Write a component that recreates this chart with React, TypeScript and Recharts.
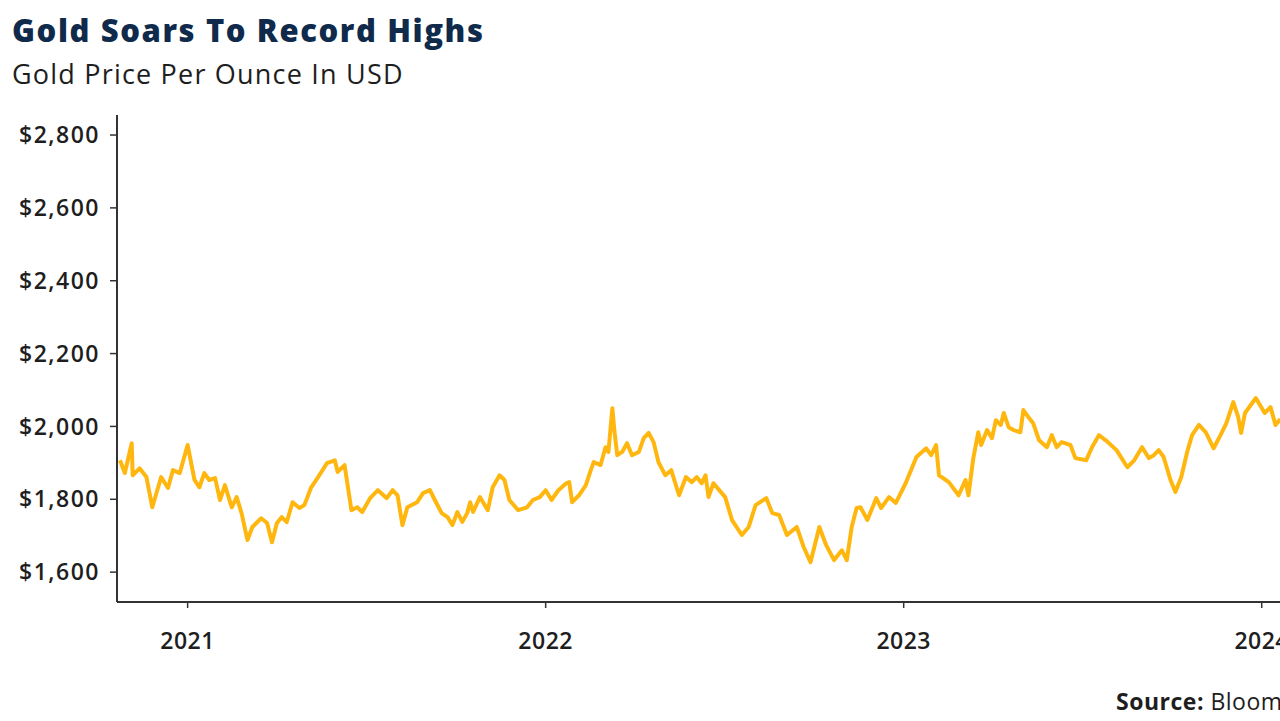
import React from "react";
import { LineChart, Line, XAxis, YAxis } from "recharts";

const dates: string[] = [
  "2020-10-24","2020-10-29","2020-11-05","2020-11-06","2020-11-13","2020-11-20","2020-11-26","2020-12-05","2020-12-12","2020-12-17","2020-12-24",
  "2021-01-01","2021-01-08","2021-01-13","2021-01-18","2021-01-23","2021-01-29","2021-02-03","2021-02-08","2021-02-15","2021-02-20","2021-02-25",
  "2021-03-03","2021-03-08","2021-03-17","2021-03-23","2021-03-28","2021-04-02","2021-04-07","2021-04-12","2021-04-18","2021-04-25","2021-04-30",
  "2021-05-07","2021-05-14","2021-05-23","2021-05-31","2021-06-03","2021-06-10","2021-06-17","2021-06-23","2021-06-28","2021-07-06","2021-07-14",
  "2021-07-23","2021-07-29","2021-08-03","2021-08-08","2021-08-13","2021-08-23","2021-08-29","2021-09-05","2021-09-10","2021-09-17","2021-09-23",
  "2021-09-28","2021-10-03","2021-10-08","2021-10-13","2021-10-16","2021-10-19","2021-10-26","2021-11-03","2021-11-08","2021-11-15","2021-11-20",
  "2021-11-25","2021-12-04","2021-12-13","2021-12-19","2021-12-26",
  "2022-01-01","2022-01-07","2022-01-14","2022-01-22","2022-01-25","2022-01-28","2022-02-04","2022-02-11","2022-02-16","2022-02-19","2022-02-26",
  "2022-03-03","2022-03-06","2022-03-10","2022-03-12","2022-03-15","2022-03-20","2022-03-25","2022-03-30","2022-04-06","2022-04-11","2022-04-16",
  "2022-04-21","2022-04-26","2022-05-03","2022-05-09","2022-05-17","2022-05-24","2022-05-30","2022-06-04","2022-06-09","2022-06-13","2022-06-16",
  "2022-06-21","2022-07-03","2022-07-10","2022-07-20","2022-07-27","2022-08-03","2022-08-14","2022-08-20","2022-08-27","2022-09-04","2022-09-14",
  "2022-09-21","2022-09-28","2022-10-07","2022-10-14","2022-10-22","2022-10-30","2022-11-04","2022-11-09","2022-11-14","2022-11-18","2022-11-25",
  "2022-12-04","2022-12-09","2022-12-17","2022-12-24",
  "2023-01-03","2023-01-14","2023-01-24","2023-01-29","2023-02-03","2023-02-06","2023-02-16","2023-02-26","2023-03-05","2023-03-08","2023-03-13",
  "2023-03-18","2023-03-21","2023-03-27","2023-04-01","2023-04-05","2023-04-10","2023-04-13","2023-04-18","2023-04-23","2023-04-30","2023-05-03",
  "2023-05-08","2023-05-13","2023-05-19","2023-05-27","2023-06-01","2023-06-06","2023-06-11","2023-06-20","2023-06-25","2023-07-06","2023-07-12",
  "2023-07-19","2023-07-26","2023-08-06","2023-08-17","2023-08-24","2023-09-01","2023-09-08","2023-09-13","2023-09-18","2023-09-23","2023-09-30",
  "2023-10-05","2023-10-11","2023-10-17","2023-10-22","2023-10-29","2023-11-05","2023-11-13","2023-11-20","2023-11-26","2023-12-03","2023-12-08",
  "2023-12-11","2023-12-15","2023-12-26",
  "2024-01-04","2024-01-10","2024-01-15","2024-01-20"
];

const prices: number[] = [
  1907,1872,1954,1866,1885,1861,1778,1861,1831,1880,1872,
  1949,1853,1833,1872,1853,1858,1798,1839,1778,1806,1762,
  1688,1724,1748,1735,1682,1735,1751,1737,1792,1776,1784,
  1833,1861,1899,1907,1875,1894,1770,1778,1765,1803,1825,
  1803,1825,1811,1729,1778,1792,1817,1825,1798,1762,1751,
  1729,1765,1738,1762,1792,1765,1806,1770,1833,1866,1853,
  1798,1770,1778,1798,1806,
  1825,1798,1825,1844,1847,1792,1811,1839,1880,1902,1894,
  1943,1930,2050,1990,1921,1930,1954,1921,1930,1968,1982,
  1957,1902,1866,1880,1811,1861,1847,1861,1844,1866,1806,
  1844,1806,1743,1702,1724,1784,1803,1762,1757,1702,1724,
  1669,1627,1724,1674,1633,1660,1633,1724,1776,1778,1743,
  1803,1776,1806,1790,
  1844,1916,1940,1921,1949,1866,1847,1811,1853,1811,1913,
  1984,1949,1990,1968,2017,2004,2037,1998,1990,1984,2045,
  2026,2009,1962,1943,1976,1943,1957,1949,1913,1907,1943,
  1976,1962,1935,1888,1907,1943,1913,1921,1935,1916,1853,
  1820,1861,1930,1976,2004,1984,1940,1976,2009,2067,2026,
  1982,2037,2078,
  2037,2053,2004,2020
];

const yTicks: number[] = [1600, 1800, 2000, 2200, 2400, 2600, 2800];
const yearTicks: number[] = [2021, 2022, 2023, 2024];

const data = dates.map((d, i) => ({ t: Date.parse(d), price: prices[i] }));
const xTicks = yearTicks.map((y) => Date.UTC(y, 0, 1));
const xDomain = [Date.UTC(2020, 9, 21), Date.UTC(2024, 2, 31)];

const FONT = "'Open Sans', 'Noto Sans', sans-serif";

export default function App() {
  return (
    <div
      style={{
        position: "absolute",
        left: 0,
        top: 0,
        width: 1280,
        height: 721,
        overflow: "hidden",
        background: "#fff",
        fontFamily: FONT,
      }}
    >
      <div
        style={{
          position: "absolute",
          left: 12,
          top: 9,
          fontSize: 31,
          fontWeight: 800,
          color: "#0f2a4a",
          whiteSpace: "nowrap",
          letterSpacing: 1.6,
        }}
      >
        Gold Soars To Record Highs
      </div>
      <div
        style={{
          position: "absolute",
          left: 12,
          top: 55,
          fontSize: 27,
          fontWeight: 400,
          color: "#1e1e1e",
          whiteSpace: "nowrap",
          letterSpacing: 1.2,
        }}
      >
        Gold Price Per Ounce In USD
      </div>
      <div style={{ position: "absolute", left: 0, top: 0 }}>
        <LineChart
          width={1400}
          height={700}
          data={data}
          margin={{ top: 115, right: 50, bottom: 38, left: 0 }}
        >
          <XAxis
            dataKey="t"
            type="number"
            scale="time"
            domain={xDomain}
            ticks={xTicks}
            allowDataOverflow
            tickFormatter={(v: number) => String(new Date(v).getUTCFullYear())}
            height={60}
            tickSize={6}
            tickMargin={25}
            axisLine={{ stroke: "#333", strokeWidth: 2 }}
            tickLine={{ stroke: "#333", strokeWidth: 1.5 }}
            tick={{ fill: "#1e1e1e", fontSize: 23, fontFamily: FONT, fontWeight: 600, letterSpacing: 0.5 }}
          />
          <YAxis
            type="number"
            domain={[1518, 2855]}
            ticks={yTicks}
            allowDataOverflow
            width={117}
            tickSize={7}
            tickMargin={10}
            tickFormatter={(v: number) => "$" + v.toLocaleString("en-US")}
            axisLine={{ stroke: "#333", strokeWidth: 2 }}
            tickLine={{ stroke: "#333", strokeWidth: 1.5 }}
            tick={{ fill: "#1e1e1e", fontSize: 23, fontFamily: FONT, fontWeight: 600, letterSpacing: 1.5 }}
          />
          <Line
            type="linear"
            dataKey="price"
            stroke="#FFB70F"
            strokeWidth={4}
            strokeLinejoin="round"
            dot={false}
            isAnimationActive={false}
          />
        </LineChart>
      </div>
      <div
        style={{
          position: "absolute",
          left: 1116,
          top: 685,
          fontSize: 23,
          color: "#1e1e1e",
          whiteSpace: "nowrap",
          letterSpacing: 0.5,
        }}
      >
        <span style={{ fontWeight: 700 }}>Source:</span> Bloomberg
      </div>
    </div>
  );
}
